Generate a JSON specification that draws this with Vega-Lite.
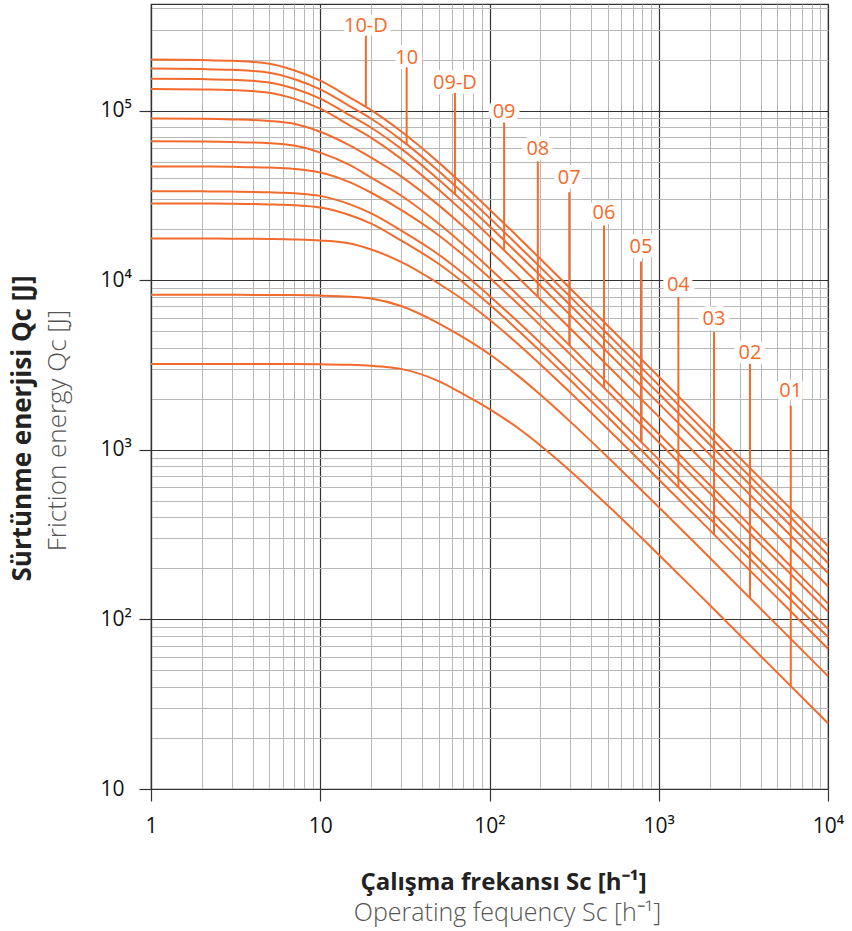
{
  "$schema": "https://vega.github.io/schema/vega-lite/v6.json",
  "width": 677,
  "height": 785,
  "autosize": {"type": "none"},
  "padding": {"left": 151, "top": 4, "right": 24, "bottom": 142},
  "background": "white",
  "config": {
    "view": {"stroke": "#333333", "strokeWidth": 1.2},
    "axis": {"labelFont": "Open Sans", "titleFont": "Open Sans"}
  },
  "datasets": {
    "curves": [
      {"curve":"10-D","S":1,"Q":199800},{"curve":"10-D","S":2,"Q":198500},{"curve":"10-D","S":3,"Q":196400},{"curve":"10-D","S":5,"Q":188800},{"curve":"10-D","S":7,"Q":173000},{"curve":"10-D","S":10,"Q":150000},{"curve":"10-D","S":15,"Q":119300},{"curve":"10-D","S":20,"Q":100600},{"curve":"10-D","S":30,"Q":75500},{"curve":"10-D","S":50,"Q":49500},{"curve":"10-D","S":70,"Q":36530},{"curve":"10-D","S":100,"Q":26140},{"curve":"10-D","S":150,"Q":17680},{"curve":"10-D","S":200,"Q":13340},{"curve":"10-D","S":300,"Q":8940},{"curve":"10-D","S":500,"Q":5385},{"curve":"10-D","S":1000,"Q":2698},{"curve":"10-D","S":2000,"Q":1350},{"curve":"10-D","S":10000,"Q":270},
      {"curve":"10","S":1,"Q":176800},{"curve":"10","S":2,"Q":175700},{"curve":"10","S":3,"Q":173900},{"curve":"10","S":5,"Q":167300},{"curve":"10","S":7,"Q":153500},{"curve":"10","S":10,"Q":133200},{"curve":"10","S":15,"Q":106000},{"curve":"10","S":20,"Q":89470},{"curve":"10","S":30,"Q":67200},{"curve":"10","S":50,"Q":44070},{"curve":"10","S":70,"Q":32550},{"curve":"10","S":100,"Q":23300},{"curve":"10","S":150,"Q":15760},{"curve":"10","S":200,"Q":11900},{"curve":"10","S":300,"Q":7974},{"curve":"10","S":500,"Q":4800},{"curve":"10","S":1000,"Q":2406},{"curve":"10","S":2000,"Q":1203},{"curve":"10","S":10000,"Q":240.7},
      {"curve":"09-D","S":1,"Q":154300},{"curve":"09-D","S":2,"Q":153400},{"curve":"09-D","S":3,"Q":151900},{"curve":"09-D","S":5,"Q":146600},{"curve":"09-D","S":7,"Q":135000},{"curve":"09-D","S":10,"Q":117600},{"curve":"09-D","S":15,"Q":93600},{"curve":"09-D","S":20,"Q":79180},{"curve":"09-D","S":30,"Q":59630},{"curve":"09-D","S":50,"Q":39220},{"curve":"09-D","S":70,"Q":29000},{"curve":"09-D","S":100,"Q":20770},{"curve":"09-D","S":150,"Q":14060},{"curve":"09-D","S":200,"Q":10610},{"curve":"09-D","S":300,"Q":7110},{"curve":"09-D","S":500,"Q":4282},{"curve":"09-D","S":1000,"Q":2146},{"curve":"09-D","S":2000,"Q":1074},{"curve":"09-D","S":10000,"Q":214.8},
      {"curve":"09","S":1,"Q":134100},{"curve":"09","S":2,"Q":133300},{"curve":"09","S":3,"Q":132100},{"curve":"09","S":5,"Q":127500},{"curve":"09","S":7,"Q":117600},{"curve":"09","S":10,"Q":102600},{"curve":"09","S":15,"Q":81650},{"curve":"09","S":20,"Q":69120},{"curve":"09","S":30,"Q":52100},{"curve":"09","S":50,"Q":34280},{"curve":"09","S":70,"Q":25370},{"curve":"09","S":100,"Q":18160},{"curve":"09","S":150,"Q":12300},{"curve":"09","S":200,"Q":9280},{"curve":"09","S":300,"Q":6220},{"curve":"09","S":500,"Q":3747},{"curve":"09","S":1000,"Q":1878},{"curve":"09","S":2000,"Q":939.6},{"curve":"09","S":10000,"Q":187.9},
      {"curve":"08","S":1,"Q":89740},{"curve":"08","S":2,"Q":89370},{"curve":"08","S":3,"Q":88720},{"curve":"08","S":5,"Q":86900},{"curve":"08","S":7,"Q":83650},{"curve":"08","S":10,"Q":75030},{"curve":"08","S":15,"Q":62090},{"curve":"08","S":20,"Q":52720},{"curve":"08","S":30,"Q":40940},{"curve":"08","S":50,"Q":27700},{"curve":"08","S":70,"Q":20740},{"curve":"08","S":100,"Q":14980},{"curve":"08","S":150,"Q":10200},{"curve":"08","S":200,"Q":7718},{"curve":"08","S":300,"Q":5184},{"curve":"08","S":500,"Q":3127},{"curve":"08","S":1000,"Q":1569},{"curve":"08","S":2000,"Q":785},{"curve":"08","S":10000,"Q":157},
      {"curve":"07","S":1,"Q":65920},{"curve":"07","S":2,"Q":65720},{"curve":"07","S":3,"Q":65300},{"curve":"07","S":5,"Q":64270},{"curve":"07","S":7,"Q":62170},{"curve":"07","S":10,"Q":56520},{"curve":"07","S":15,"Q":47640},{"curve":"07","S":20,"Q":40230},{"curve":"07","S":30,"Q":31580},{"curve":"07","S":50,"Q":21580},{"curve":"07","S":70,"Q":16230},{"curve":"07","S":100,"Q":11760},{"curve":"07","S":150,"Q":8020},{"curve":"07","S":200,"Q":6079},{"curve":"07","S":300,"Q":4087},{"curve":"07","S":500,"Q":2466},{"curve":"07","S":1000,"Q":1238},{"curve":"07","S":2000,"Q":619.4},{"curve":"07","S":10000,"Q":123.9},
      {"curve":"06","S":1,"Q":46880},{"curve":"06","S":2,"Q":46810},{"curve":"06","S":3,"Q":46620},{"curve":"06","S":5,"Q":46130},{"curve":"06","S":7,"Q":45300},{"curve":"06","S":10,"Q":43150},{"curve":"06","S":15,"Q":37720},{"curve":"06","S":20,"Q":32770},{"curve":"06","S":30,"Q":25990},{"curve":"06","S":50,"Q":18420},{"curve":"06","S":70,"Q":14080},{"curve":"06","S":100,"Q":10340},{"curve":"06","S":150,"Q":7116},{"curve":"06","S":200,"Q":5414},{"curve":"06","S":300,"Q":3651},{"curve":"06","S":500,"Q":2208},{"curve":"06","S":1000,"Q":1109},{"curve":"06","S":2000,"Q":555.7},{"curve":"06","S":10000,"Q":111.2},
      {"curve":"05","S":1,"Q":33420},{"curve":"05","S":2,"Q":33400},{"curve":"05","S":3,"Q":33280},{"curve":"05","S":5,"Q":33000},{"curve":"05","S":7,"Q":32580},{"curve":"05","S":10,"Q":31410},{"curve":"05","S":15,"Q":27970},{"curve":"05","S":20,"Q":24750},{"curve":"05","S":30,"Q":19650},{"curve":"05","S":50,"Q":14180},{"curve":"05","S":70,"Q":10940},{"curve":"05","S":100,"Q":8080},{"curve":"05","S":150,"Q":5588},{"curve":"05","S":200,"Q":4262},{"curve":"05","S":300,"Q":2880},{"curve":"05","S":500,"Q":1744},{"curve":"05","S":1000,"Q":876.8},{"curve":"05","S":2000,"Q":439.2},{"curve":"05","S":10000,"Q":87.9},
      {"curve":"04","S":1,"Q":28310},{"curve":"04","S":2,"Q":28310},{"curve":"04","S":3,"Q":28220},{"curve":"04","S":5,"Q":27980},{"curve":"04","S":7,"Q":27670},{"curve":"04","S":10,"Q":26850},{"curve":"04","S":15,"Q":24160},{"curve":"04","S":20,"Q":21560},{"curve":"04","S":30,"Q":17150},{"curve":"04","S":50,"Q":12490},{"curve":"04","S":70,"Q":9687},{"curve":"04","S":100,"Q":7184},{"curve":"04","S":150,"Q":4985},{"curve":"04","S":200,"Q":3804},{"curve":"04","S":300,"Q":2576},{"curve":"04","S":500,"Q":1561},{"curve":"04","S":1000,"Q":784.6},{"curve":"04","S":2000,"Q":393.3},{"curve":"04","S":10000,"Q":78.7},
      {"curve":"03","S":1,"Q":17600},{"curve":"03","S":2,"Q":17600},{"curve":"03","S":3,"Q":17580},{"curve":"03","S":5,"Q":17500},{"curve":"03","S":7,"Q":17390},{"curve":"03","S":10,"Q":17150},{"curve":"03","S":15,"Q":16460},{"curve":"03","S":20,"Q":15170},{"curve":"03","S":30,"Q":12820},{"curve":"03","S":50,"Q":9559},{"curve":"03","S":70,"Q":7661},{"curve":"03","S":100,"Q":5838},{"curve":"03","S":150,"Q":4134},{"curve":"03","S":200,"Q":3186},{"curve":"03","S":300,"Q":2176},{"curve":"03","S":500,"Q":1326},{"curve":"03","S":1000,"Q":668.8},{"curve":"03","S":2000,"Q":335.9},{"curve":"03","S":10000,"Q":67.2},
      {"curve":"02","S":1,"Q":8200},{"curve":"02","S":2,"Q":8200},{"curve":"02","S":3,"Q":8195},{"curve":"02","S":5,"Q":8185},{"curve":"02","S":7,"Q":8166},{"curve":"02","S":10,"Q":8116},{"curve":"02","S":15,"Q":7990},{"curve":"02","S":20,"Q":7798},{"curve":"02","S":30,"Q":7040},{"curve":"02","S":50,"Q":5572},{"curve":"02","S":70,"Q":4603},{"curve":"02","S":100,"Q":3660},{"curve":"02","S":150,"Q":2690},{"curve":"02","S":200,"Q":2111},{"curve":"02","S":300,"Q":1466},{"curve":"02","S":500,"Q":904.2},{"curve":"02","S":1000,"Q":459.2},{"curve":"02","S":2000,"Q":231.1},{"curve":"02","S":10000,"Q":46.3},
      {"curve":"01","S":1,"Q":3210},{"curve":"01","S":2,"Q":3210},{"curve":"01","S":3,"Q":3209},{"curve":"01","S":5,"Q":3207},{"curve":"01","S":7,"Q":3203},{"curve":"01","S":10,"Q":3190},{"curve":"01","S":15,"Q":3168},{"curve":"01","S":20,"Q":3126},{"curve":"01","S":30,"Q":3000},{"curve":"01","S":50,"Q":2541},{"curve":"01","S":70,"Q":2131},{"curve":"01","S":100,"Q":1739},{"curve":"01","S":150,"Q":1325},{"curve":"01","S":200,"Q":1060},{"curve":"01","S":300,"Q":750.9},{"curve":"01","S":500,"Q":469.6},{"curve":"01","S":1000,"Q":240.7},{"curve":"01","S":2000,"Q":121.5},{"curve":"01","S":10000,"Q":24.4}
    ],
    "labels": [
      {"label":"10-D","S":18.6,"Qtext":314000,"Qtop":280000,"Qend":105000},
      {"label":"10","S":32.4,"Qtext":205000,"Qtop":182000,"Qend":63000},
      {"label":"09-D","S":62.5,"Qtext":146000,"Qtop":127000,"Qend":32200},
      {"label":"09","S":122,"Qtext":98200,"Qtop":85300,"Qend":15000},
      {"label":"08","S":193,"Qtext":59700,"Qtop":50200,"Qend":8000},
      {"label":"07","S":296,"Qtext":40100,"Qtop":33000,"Qend":4140},
      {"label":"06","S":475,"Qtext":24900,"Qtop":21000,"Qend":2320},
      {"label":"05","S":785,"Qtext":15600,"Qtop":12900,"Qend":1114},
      {"label":"04","S":1306,"Qtext":9400,"Qtop":7960,"Qend":601},
      {"label":"03","S":2120,"Qtext":5930,"Qtop":4940,"Qend":317},
      {"label":"02","S":3459,"Qtext":3720,"Qtop":3240,"Qend":134},
      {"label":"01","S":6026,"Qtext":2210,"Qtop":1820,"Qend":40.5}
    ]
  },
  "layer": [
    {
      "data": {"name": "curves"},
      "mark": {"type": "line", "color": "#F26B2D", "strokeWidth": 2, "interpolate": "monotone"},
      "encoding": {
        "x": {
          "field": "S", "type": "quantitative",
          "scale": {"type": "log", "domain": [1, 10000], "nice": false},
          "axis": {
            "orient": "bottom",
            "values": [1,2,3,4,5,6,7,8,9,10,20,30,40,50,60,70,80,90,100,200,300,400,500,600,700,800,900,1000,2000,3000,4000,5000,6000,7000,8000,9000,10000],
            "labelExpr": "datum.value == 1 ? '1' : datum.value == 10 ? '10' : datum.value == 100 ? '10²' : datum.value == 1000 ? '10³' : datum.value == 10000 ? '10⁴' : ''",
            "labelFontSize": 21, "labelColor": "#111111", "labelPadding": 14, "labelFlush": false, "labelOverlap": false,
            "grid": true,
            "gridColor": {"condition": {"test": "abs(log(datum.value)/LN10 - round(log(datum.value)/LN10)) < 0.001", "value": "#333333"}, "value": "#b8b8b8"},
            "gridWidth": {"condition": {"test": "abs(log(datum.value)/LN10 - round(log(datum.value)/LN10)) < 0.001", "value": 1.2}, "value": 1},
            "ticks": true,
            "tickSize": {"condition": {"test": "abs(log(datum.value)/LN10 - round(log(datum.value)/LN10)) < 0.001", "value": 12}, "value": 0},
            "tickColor": "#333333", "tickWidth": 1.2,
            "domainColor": "#333333", "domainWidth": 1.2,
            "title": "Çalışma frekansı Sc [h⁻¹]",
            "titleFontSize": 24, "titleFontWeight": "bold", "titleColor": "#222222",
            "titleX": 352, "titleY": 93, "titleAlign": "center", "titleBaseline": "middle"
          }
        },
        "y": {
          "field": "Q", "type": "quantitative",
          "scale": {"type": "log", "domain": [10, 425000], "nice": false},
          "axis": {
            "orient": "left",
            "values": [10,20,30,40,50,60,70,80,90,100,200,300,400,500,600,700,800,900,1000,2000,3000,4000,5000,6000,7000,8000,9000,10000,20000,30000,40000,50000,60000,70000,80000,90000,100000,200000,300000,400000],
            "labelExpr": "datum.value == 10 ? '10' : datum.value == 100 ? '10²' : datum.value == 1000 ? '10³' : datum.value == 10000 ? '10⁴' : datum.value == 100000 ? '10⁵' : ''",
            "labelFontSize": 21, "labelColor": "#111111", "labelAlign": "left", "labelBaseline": "middle", "labelPadding": 39, "labelFlush": false, "labelOverlap": false,
            "grid": true,
            "gridColor": {"condition": {"test": "abs(log(datum.value)/LN10 - round(log(datum.value)/LN10)) < 0.001", "value": "#333333"}, "value": "#b8b8b8"},
            "gridWidth": {"condition": {"test": "abs(log(datum.value)/LN10 - round(log(datum.value)/LN10)) < 0.001", "value": 1.2}, "value": 1},
            "ticks": true,
            "tickSize": {"condition": {"test": "abs(log(datum.value)/LN10 - round(log(datum.value)/LN10)) < 0.001", "value": 12}, "value": 0},
            "tickColor": "#333333", "tickWidth": 1.2,
            "domainColor": "#333333", "domainWidth": 1.2,
            "title": "Sürtünme enerjisi Qc [J]",
            "titleFontSize": 26, "titleFontWeight": "bold", "titleColor": "#222222",
            "titleX": -129, "titleY": 424, "titleAngle": 270, "titleAlign": "center", "titleBaseline": "middle"
          }
        },
        "detail": {"field": "curve", "type": "nominal"}
      }
    },
    {
      "data": {"name": "labels"},
      "layer": [
        {
          "mark": {"type": "rule", "color": "#F26B2D", "strokeWidth": 2},
          "encoding": {
            "x": {"field": "S", "type": "quantitative", "scale": {"type": "log", "domain": [1, 10000], "nice": false},
              "axis": {"orient": "bottom", "domain": false, "ticks": false, "labels": false, "grid": false,
                "title": "Operating fequency Sc [h⁻¹]", "titleFontSize": 25, "titleFontWeight": 300, "titleColor": "#555555",
                "titleX": 356, "titleY": 123, "titleAlign": "center", "titleBaseline": "middle"}},
            "y": {"field": "Qtop", "type": "quantitative", "scale": {"type": "log", "domain": [10, 425000], "nice": false},
              "axis": {"orient": "left", "domain": false, "ticks": false, "labels": false, "grid": false,
                "title": "Friction energy Qc [J]", "titleFontSize": 26, "titleFontWeight": 300, "titleColor": "#555555",
                "titleX": -94, "titleY": 426, "titleAngle": 270, "titleAlign": "center", "titleBaseline": "middle"}},
            "y2": {"field": "Qend"}
          }
        },
        {
          "mark": {"type": "text", "font": "Open Sans", "fontSize": 20, "fill": "white", "stroke": "white", "strokeWidth": 10, "strokeJoin": "round", "align": "center", "baseline": "middle"},
          "encoding": {
            "x": {"field": "S", "type": "quantitative"},
            "y": {"field": "Qtext", "type": "quantitative"},
            "text": {"field": "label"}
          }
        },
        {
          "mark": {"type": "text", "font": "Open Sans", "fontSize": 20, "color": "#F26B2D", "align": "center", "baseline": "middle"},
          "encoding": {
            "x": {"field": "S", "type": "quantitative"},
            "y": {"field": "Qtext", "type": "quantitative"},
            "text": {"field": "label"}
          }
        }
      ]
    }
  ],
  "resolve": {"scale": {"x": "independent", "y": "independent"}, "axis": {"x": "independent", "y": "independent"}}
}
